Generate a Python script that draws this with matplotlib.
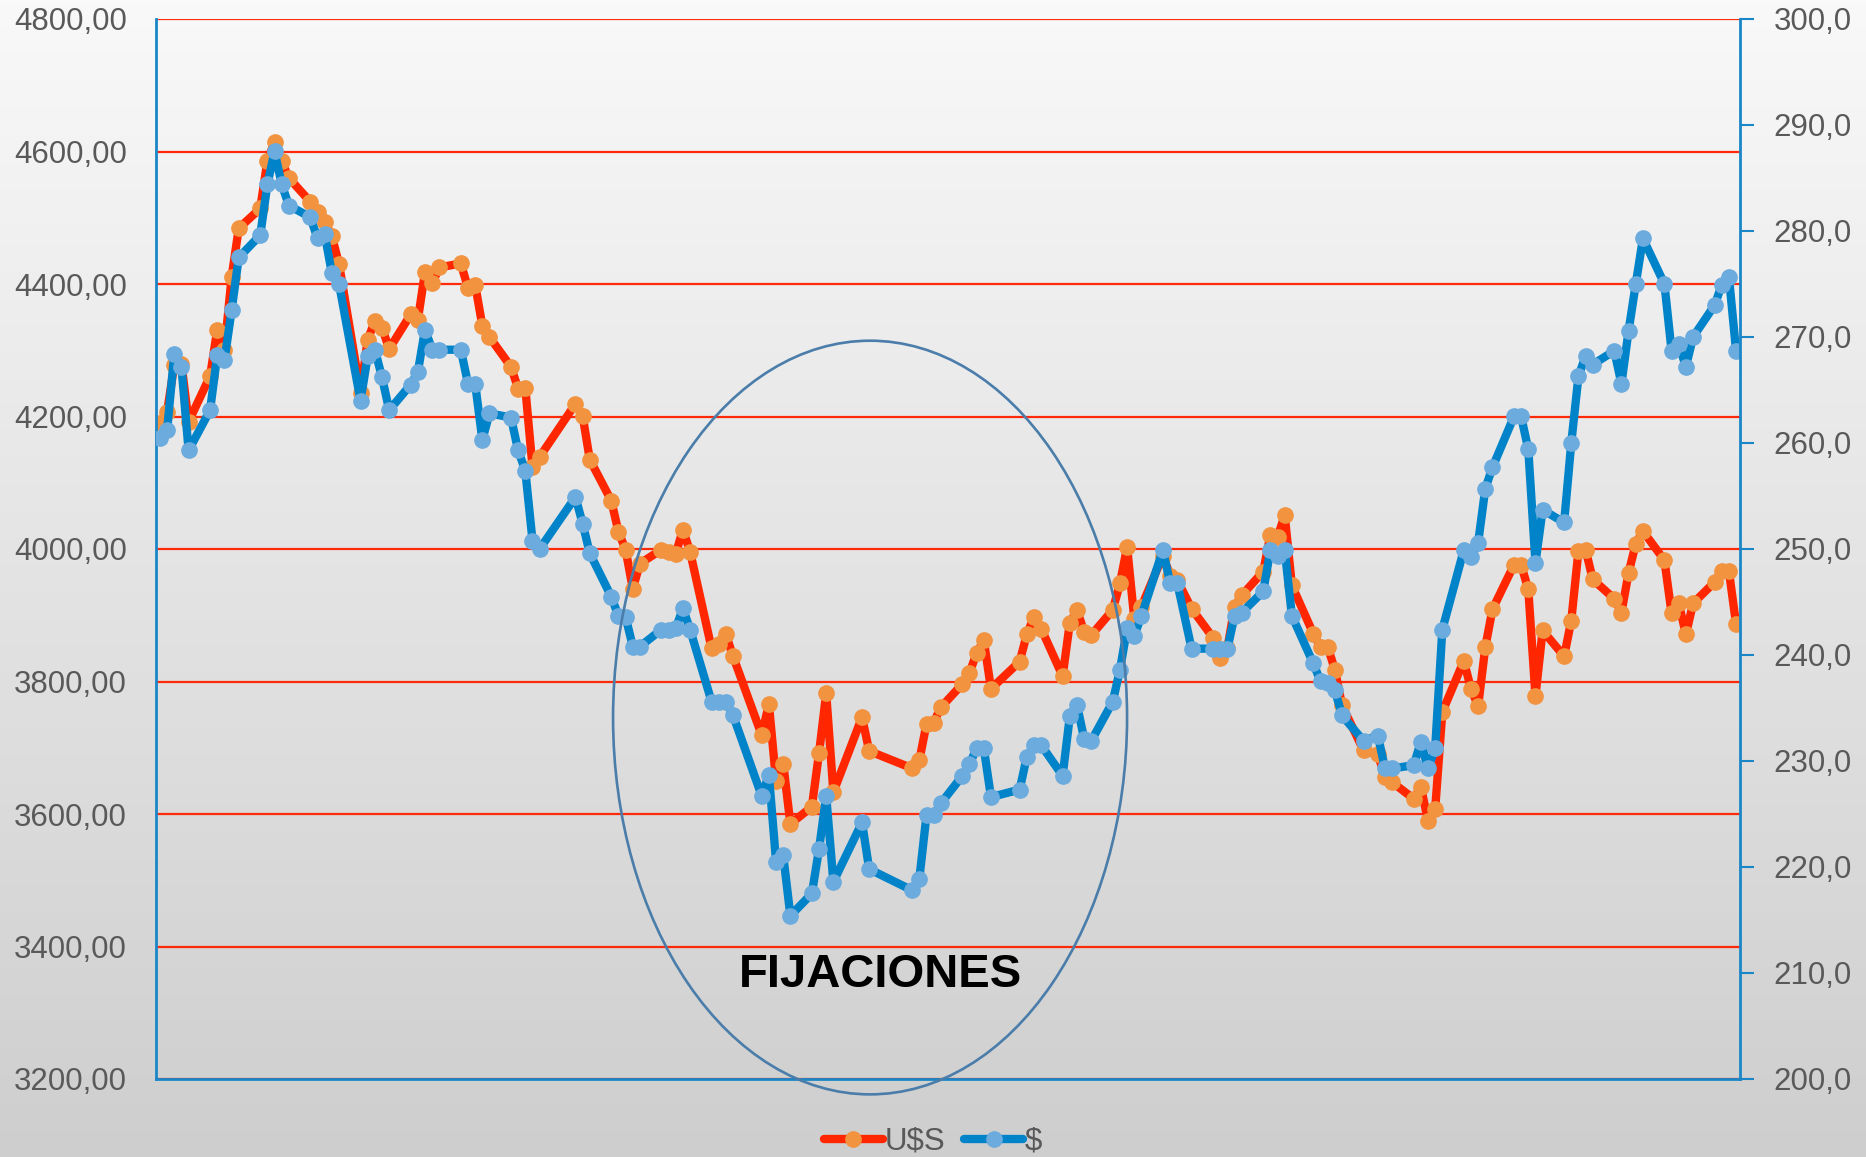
import numpy as np
import pandas as pd
import matplotlib
matplotlib.use("Agg")
import matplotlib.pyplot as plt
from matplotlib.colors import LinearSegmentedColormap
from matplotlib.patches import Ellipse
from matplotlib.ticker import FuncFormatter

# trading days (day offset from the first quote), gaps are weekends / holidays
dias = [0, 1, 2, 3, 4, 7, 8, 9, 10, 11, 14, 15, 16, 17, 18, 21, 22, 23, 24, 25,
        28, 29, 30, 31, 32, 35, 36, 37, 38, 39, 42, 43, 44, 45, 46, 49, 50, 51, 52, 53,
        58, 59, 60, 63, 64, 65, 66, 67, 70, 71, 72, 73, 74, 77, 78, 79, 80,
        84, 85, 86, 87, 88, 91, 92, 93, 94, 98, 99, 105, 106, 107, 108, 109,
        112, 113, 114, 115, 116, 120, 121, 122, 123, 126, 127, 128, 129, 130,
        133, 134, 135, 136, 137, 140, 141, 142, 144, 147, 148, 149, 150, 151,
        154, 155, 156, 157, 158, 161, 162, 163, 164, 165, 168, 170, 171, 172,
        175, 176, 177, 178, 179, 182, 183, 184, 185, 186, 189, 190, 191, 192, 193,
        196, 197, 198, 199, 200, 203, 204, 205, 206, 207, 210, 211, 212, 213, 214,
        217, 218, 219, 220]

# price in U$S (left axis)
usd = [4190, 4207, 4278, 4280, 4192, 4261, 4331, 4300, 4410, 4484,
       4514, 4586, 4615, 4585, 4560, 4524, 4508, 4494, 4472, 4430,
       4236, 4316, 4344, 4334, 4302, 4354, 4346, 4418, 4401, 4425,
       4431, 4394, 4399, 4337, 4320, 4275, 4242, 4243, 4124, 4139,
       4219, 4201, 4135, 4073, 4026, 3999, 3940, 3978, 3999, 3996, 3993, 4029, 3996,
       3850, 3857, 3871, 3838, 3719, 3766, 3650, 3676, 3585, 3611, 3692, 3782, 3633,
       3746, 3695, 3669, 3681, 3736, 3738, 3761,
       3796, 3813, 3843, 3862, 3789, 3830, 3871, 3897, 3880, 3808, 3888, 3908, 3875, 3870,
       3908, 3948, 4003, 3895, 3913, 3990, 3960, 3953, 3910, 3866, 3835, 3850, 3913, 3930,
       3966, 4021, 4018, 4051, 3945, 3872, 3852, 3852, 3818, 3764, 3696, 3690, 3656, 3648,
       3623, 3641, 3590, 3607, 3754, 3831, 3789, 3763, 3852, 3909, 3976, 3976, 3939, 3778, 3877,
       3838, 3892, 3997, 3999, 3954, 3925, 3904, 3964, 4008, 4027, 3983, 3903, 3918, 3871, 3918,
       3950, 3967, 3967, 3887]

# price in $ (right axis)
pesos = [260.5, 261.2, 268.4, 267.2, 259.3, 263.1, 268.3, 267.8, 272.5, 277.5,
         279.6, 284.4, 287.5, 284.4, 282.4, 281.3, 279.3, 279.7, 276.0, 275.0,
         264.0, 268.2, 268.8, 266.2, 263.1, 265.5, 266.7, 270.7, 268.8, 268.8,
         268.8, 265.6, 265.6, 260.3, 262.8, 262.4, 259.3, 257.4, 250.8, 250.0,
         254.9, 252.4, 249.6, 245.5, 243.7, 243.6, 240.8, 240.8, 242.4, 242.4, 242.5, 244.4, 242.4,
         235.6, 235.6, 235.6, 234.3, 226.7, 228.7, 220.5, 221.1, 215.4, 217.5, 221.7, 226.7, 218.6,
         224.2, 219.8, 217.8, 218.9, 224.9, 224.9, 226.0,
         228.6, 229.7, 231.2, 231.2, 226.6, 227.3, 230.4, 231.5, 231.5, 228.6, 234.2, 235.3, 232.1, 231.9,
         235.6, 238.6, 242.5, 241.8, 243.7, 249.9, 246.8, 246.8, 240.6, 240.6, 240.6, 240.6, 243.7, 244.0,
         246.0, 249.9, 249.3, 249.9, 243.7, 239.2, 237.5, 237.4, 236.7, 234.3, 231.9, 232.4, 229.3, 229.3,
         229.6, 231.8, 229.3, 231.2, 242.4, 249.9, 249.2, 250.6, 255.7, 257.7, 262.5, 262.5, 259.4, 248.7, 253.7,
         252.5, 260.0, 266.3, 268.2, 267.4, 268.7, 265.6, 270.6, 275.0, 279.3, 275.0, 268.7, 269.3, 267.2, 270.0,
         273.0, 274.9, 275.7, 268.7]

df = pd.DataFrame({"dia": dias, "usd": usd, "pesos": pesos})

plt.rcParams["font.family"] = ["Liberation Sans", "DejaVu Sans"]
txt_color = "#595959"
axis_blue = "#1a86c8"

fig = plt.figure(figsize=(18.66, 11.57), dpi=100)

# grey gradient behind everything
bg = fig.add_axes([0, 0, 1, 1], zorder=-10)
grad = np.linspace(0, 1, 256).reshape(-1, 1)
cmap = LinearSegmentedColormap.from_list("fondo", ["#f9f9f9", "#cecece"])
bg.imshow(grad, aspect="auto", cmap=cmap, extent=[0, 1, 0, 1], origin="upper")
bg.axis("off")

ax = fig.add_axes([156 / 1866, 78 / 1157, 1584 / 1866, 1060 / 1157])
ax.patch.set_alpha(0)
ax2 = ax.twinx()
ax2.patch.set_alpha(0)

ax.plot(df["dia"], df["usd"], color="#ff2600", lw=6.0, marker="o", ms=11,
        mfc="#f29340", mec="#f29340", label="U$S", solid_joinstyle="round",
        solid_capstyle="round")
ax2.plot(df["dia"], df["pesos"], color="#0083c9", lw=6.0, marker="o", ms=11,
         mfc="#6cabdd", mec="#6cabdd", label="$", solid_joinstyle="round",
         solid_capstyle="round")

ax.set_xlim(-0.55, 220.55)
ax.set_ylim(3200, 4800)
ax2.set_ylim(200, 300)
ax.set_yticks(np.arange(3200, 4801, 200))
ax2.set_yticks(np.arange(200, 301, 10))
ax.set_xticks([])

ax.yaxis.set_major_formatter(FuncFormatter(lambda v, p: f"{v:.2f}".replace(".", ",")))
ax2.yaxis.set_major_formatter(FuncFormatter(lambda v, p: f"{v:.1f}".replace(".", ",")))

ax.tick_params(axis="y", length=0, pad=21, labelsize=22.5, labelcolor=txt_color)
ax2.tick_params(axis="y", length=10, width=1.5, color=axis_blue, pad=14,
                labelsize=22.5, labelcolor=txt_color)

ax.set_axisbelow(True)
ax.grid(axis="y", color="#ff2a0a", lw=1.6)
ax.grid(axis="x", visible=False)

for s in ["left", "bottom"]:
    ax.spines[s].set_color(axis_blue)
    ax.spines[s].set_linewidth(2)
ax.spines["right"].set_visible(False)
ax.spines["top"].set_visible(False)
ax2.spines["right"].set_color(axis_blue)
ax2.spines["right"].set_linewidth(2)
for s in ["left", "bottom", "top"]:
    ax2.spines[s].set_visible(False)

# circled zone and its label
elipse = Ellipse((0.4508, 0.341), 0.3245, 0.711, transform=ax.transAxes,
                 fill=False, edgecolor="#4a7daa", lw=1.9, clip_on=False, zorder=5)
ax2.add_patch(elipse)
ax2.text(0.4575, 0.098, "FIJACIONES", transform=ax.transAxes, ha="center",
         va="center", fontsize=34, fontweight="bold", color="black")

h1, l1 = ax.get_legend_handles_labels()
h2, l2 = ax2.get_legend_handles_labels()
fig.legend(h1 + h2, l1 + l2, loc="center", bbox_to_anchor=(0.5, 0.013), ncol=2,
           frameon=False, fontsize=22.5, labelcolor=txt_color, handlelength=1.9,
           handletextpad=0.05, columnspacing=0.6, markerscale=1.0)

fig.savefig("out.png", dpi=100)
